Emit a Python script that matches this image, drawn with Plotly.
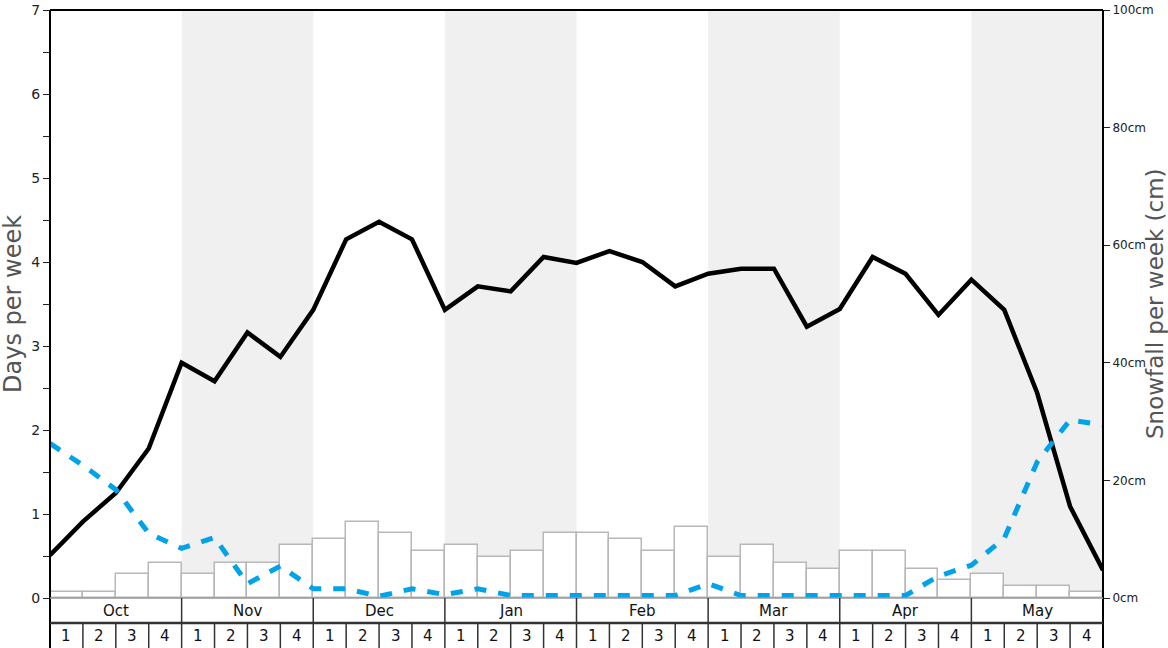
import plotly.graph_objects as go

months = ["Oct", "Nov", "Dec", "Jan", "Feb", "Mar", "Apr", "May"]
week_labels = ["1", "2", "3", "4"] * 8

# Snowfall per week (cm), one bar per week
snowfall_cm = [1, 1, 4, 6, 4, 6, 6, 9, 10, 13, 11, 8, 9, 7, 8, 11,
               11, 10, 8, 12, 7, 9, 6, 5, 8, 8, 5, 3, 4, 2, 2, 1]

# Days per week series, values at week boundaries (33 points)
days_black = [0.51, 0.91, 1.25, 1.78, 2.80, 2.58, 3.16, 2.87, 3.43, 4.27, 4.48,
              4.27, 3.43, 3.71, 3.65, 4.06, 3.99, 4.13, 4.00, 3.71, 3.86, 3.92,
              3.92, 3.23, 3.44, 4.06, 3.86, 3.37, 3.79, 3.43, 2.44, 1.09, 0.33]
days_blue = [1.84, 1.58, 1.29, 0.77, 0.59, 0.72, 0.17, 0.38, 0.11, 0.11, 0.02,
             0.11, 0.04, 0.11, 0.03, 0.03, 0.03, 0.03, 0.03, 0.03, 0.17, 0.03,
             0.03, 0.03, 0.03, 0.03, 0.03, 0.26, 0.39, 0.71, 1.62, 2.12, 2.06]

left_ticks = [0, 0.5, 1, 1.5, 2, 2.5, 3, 3.5, 4, 4.5, 5, 5.5, 6, 6.5, 7]
left_ticktext = ["0", "", "1", "", "2", "", "3", "", "4", "", "5", "", "6", "", "7"]
right_ticks = [0, 20, 40, 60, 80, 100]
right_ticktext = ["0cm", "20cm", "40cm", "60cm", "80cm", "100cm"]

nweeks = len(snowfall_cm)
FONT = "DejaVu Sans"

fig = go.Figure()
fig.add_trace(go.Bar(
    x=[i + 0.5 for i in range(nweeks)], y=snowfall_cm, width=1,
    marker=dict(color="white", line=dict(color="#b8b8b8", width=1.5)),
    yaxis="y", showlegend=False, hoverinfo="skip"))
fig.add_trace(go.Scatter(
    x=list(range(len(days_black))), y=days_black, mode="lines",
    line=dict(color="black", width=4.5), yaxis="y2", showlegend=False))
fig.add_trace(go.Scatter(
    x=list(range(len(days_blue))), y=days_blue, mode="lines",
    line=dict(color="#00a3ea", width=5, dash="12px,12px"), yaxis="y2",
    showlegend=False))

shapes = []
# alternating month shading
for m in range(1, 8, 2):
    shapes.append(dict(type="rect", xref="x", yref="paper", x0=4 * m, x1=4 * m + 4,
                       y0=0, y1=1, fillcolor="#f0f0f0", line=dict(width=0), layer="below"))

H = 588.0
def py(pix):
    return (598 - pix) / H

# top border
shapes.append(dict(type="line", xref="paper", yref="paper", x0=0, x1=1, y0=1, y1=1,
                   line=dict(color="black", width=2)))
# axis line extensions down through the table
for xv in (0, 1):
    shapes.append(dict(type="line", xref="paper", yref="paper", x0=xv, x1=xv,
                       y0=1, y1=py(650), line=dict(color="black", width=2)))
# x-axis baseline
shapes.append(dict(type="line", xref="paper", yref="paper", x0=0, x1=1, y0=0, y1=0,
                   line=dict(color="#999999", width=1.5)))
# row divider
shapes.append(dict(type="line", xref="paper", yref="paper", x0=0, x1=1,
                   y0=py(623), y1=py(623), line=dict(color="#333333", width=2.5)))
# month separators
for m in range(1, 8):
    shapes.append(dict(type="line", xref="paper", yref="paper", x0=4 * m / nweeks,
                       x1=4 * m / nweeks, y0=0, y1=py(650),
                       line=dict(color="#333333", width=1.5)))
# week separators
for w in range(1, nweeks):
    if w % 4:
        shapes.append(dict(type="line", xref="paper", yref="paper", x0=w / nweeks,
                           x1=w / nweeks, y0=py(623), y1=py(650),
                           line=dict(color="#333333", width=1.5)))

annotations = []
for i, mname in enumerate(months):
    annotations.append(dict(text=mname, xref="paper", yref="paper",
                            x=(4 * i + 2) / nweeks, y=py(610.5), showarrow=False,
                            xanchor="center", yanchor="middle",
                            font=dict(family=FONT, size=15, color="#111111")))
for i, wl in enumerate(week_labels):
    annotations.append(dict(text=wl, xref="paper", yref="paper",
                            x=(i + 0.5) / nweeks, y=py(636), showarrow=False,
                            xanchor="center", yanchor="middle",
                            font=dict(family=FONT, size=15, color="#111111")))
annotations.append(dict(text="Days per week", xref="paper", yref="paper",
                        x=(13 - 50) / 1053, y=py(304), textangle=-90,
                        showarrow=False, xanchor="center", yanchor="middle",
                        font=dict(family=FONT, size=24, color="#555555")))
annotations.append(dict(text="Snowfall per week (cm)", xref="paper", yref="paper",
                        x=(1155 - 50) / 1053, y=py(304), textangle=-90,
                        showarrow=False, xanchor="center", yanchor="middle",
                        font=dict(family=FONT, size=23, color="#555555")))

fig.update_layout(
    width=1168, height=648,
    margin=dict(l=50, r=65, t=10, b=50, autoexpand=False),
    paper_bgcolor="white", plot_bgcolor="white",
    bargap=0, showlegend=False,
    font=dict(family=FONT, color="#222222"),
    xaxis=dict(range=[0, nweeks], showticklabels=False, ticks="", showgrid=False,
               zeroline=False, showline=False, fixedrange=True, automargin=False),
    yaxis=dict(range=[0, 100], side="right", tickvals=right_ticks, ticktext=right_ticktext,
               ticks="outside", ticklen=6, tickwidth=1, tickcolor="#222222",
               tickfont=dict(family=FONT, size=12, color="#222222"),
               showgrid=False, zeroline=False, showline=False, automargin=False),
    yaxis2=dict(range=[0, 7], side="left", overlaying="y", tickvals=left_ticks,
                ticktext=left_ticktext, ticks="outside", ticklen=6, tickwidth=1,
                tickcolor="#222222", tickfont=dict(family=FONT, size=14, color="#222222"),
                showgrid=False, zeroline=False, showline=False, automargin=False),
    shapes=shapes, annotations=annotations,
)

fig.write_html("out.html", config={"displayModeBar": False},
               post_script="document.body.style.margin='0';document.body.style.overflow='hidden';")
